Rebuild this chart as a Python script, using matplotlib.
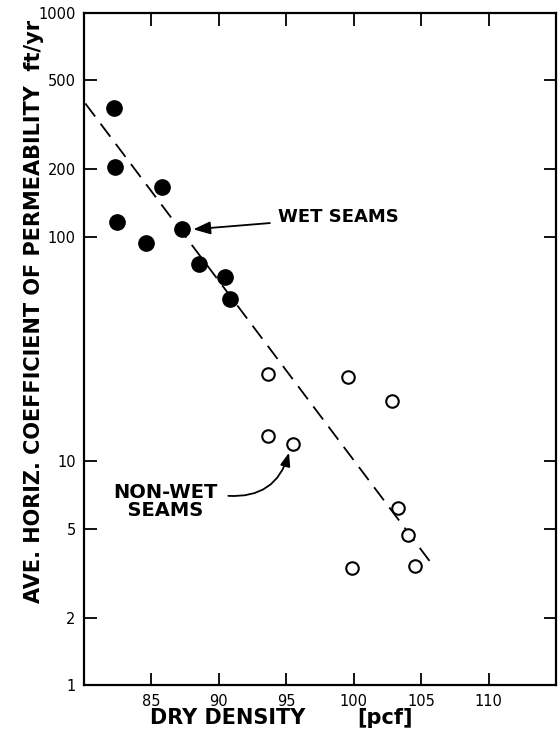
import matplotlib.pyplot as plt
import matplotlib.ticker as mticker

# wet seams (filled dots)
wet_density = [82.26, 82.33, 82.48, 85.8, 84.56, 87.3, 88.56, 90.48, 90.85]
wet_perm = [377, 205, 116, 167, 94, 108, 76, 66, 53]

# non-wet seams (open circles)
dry_density = [93.67, 93.67, 95.52, 99.6, 102.85, 103.3, 104.04, 99.9, 104.56]
dry_perm = [24.5, 13.0, 11.9, 23.7, 18.5, 6.2, 4.7, 3.35, 3.4]

# dashed trend line
fit_x = [80.1, 105.96]
fit_y = [393, 3.37]

xticks = [85, 90, 95, 100, 105, 110]
yticks = [1, 2, 5, 10, 100, 200, 500, 1000]
ylabels = ["1", "2", "5", "10", "100", "200", "500", "1000"]

fig = plt.figure(figsize=(5.6, 7.37), dpi=100)
ax = fig.add_axes([0.150, 0.070, 0.843, 0.913])

ax.plot(fit_x, fit_y, color="black", lw=1.3, dashes=(9, 5))
ax.plot(wet_density, wet_perm, "o", color="black", ms=11)
ax.plot(dry_density, dry_perm, "o", mfc="white", mec="black", mew=1.5, ms=9)

ax.set_yscale("log")
ax.set_xlim(80, 115)
ax.set_ylim(1, 1000)
ax.set_xticks(xticks)
ax.set_yticks(yticks)
ax.set_yticklabels(ylabels)
ax.yaxis.set_minor_locator(mticker.NullLocator())
ax.tick_params(direction="in", length=9, width=1.3, labelsize=10.5,
               top=True, right=True, pad=6)
ax.tick_params(axis="y", pad=6)
for s in ax.spines.values():
    s.set_linewidth(1.6)

fig.text(0.060, 0.577, "AVE. HORIZ. COEFFICIENT OF PERMEABILITY  ft/yr",
         fontsize=15, fontweight="bold", rotation=90, ha="center", va="center")
fig.text(0.268, 0.026, "DRY DENSITY", fontsize=15, fontweight="bold",
         ha="left", va="center")
fig.text(0.638, 0.026, "[pcf]", fontsize=15, fontweight="bold",
         ha="left", va="center")

ax.annotate("WET SEAMS", xy=(88.1, 108), xytext=(94.4, 122),
            fontsize=13, fontweight="bold", va="center", ha="left",
            arrowprops=dict(arrowstyle="-|>,head_length=0.8,head_width=0.3",
                            color="black", lw=1.3, shrinkA=4, shrinkB=0))
ax.text(82.2, 6.6, "NON-WET\n  SEAMS", fontsize=14, fontweight="bold",
        va="center", ha="left", linespacing=0.9)
ax.annotate("", xy=(95.2, 10.9), xytext=(90.7, 7.0),
            arrowprops=dict(arrowstyle="-|>,head_length=0.8,head_width=0.3",
                            color="black", lw=1.3, shrinkA=0, shrinkB=0,
                            connectionstyle="arc3,rad=0.4"))

plt.savefig("out.png", dpi=100)
